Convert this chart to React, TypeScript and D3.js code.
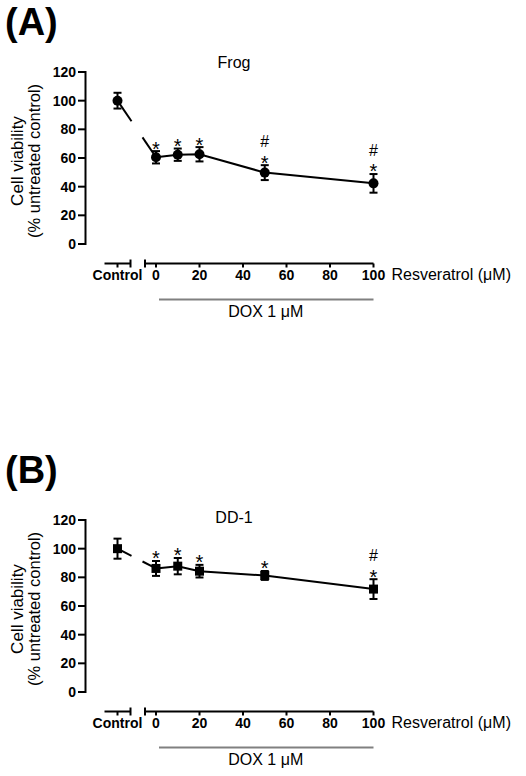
import React from "react";
import * as d3 from "d3";

const doses = [0, 10, 20, 50, 100];
const xTicks = [0, 20, 40, 60, 80, 100];
const yTicks = [0, 20, 40, 60, 80, 100, 120];

const frogControl = 100;
const frogControlErr = 5.5;
const frogMean = [60.5, 62.3, 62.6, 49.8, 42.3];
const frogErr = [4.3, 4.3, 5, 5.2, 6.5];
const frogSig = ["*", "*", "*", "#*", "#*"];

const dd1Control = 100;
const dd1ControlErr = 7;
const dd1Mean = [86.2, 87.8, 84.3, 81.3, 71.8];
const dd1Err = [5.2, 5.7, 4.4, 3.1, 6.9];
const dd1Sig = ["*", "*", "*", "*", "#*"];

const FONT = "Liberation Sans, Arial, sans-serif";

type PanelProps = {
  dy: number;
  letter: string;
  title: string;
  titleY: number;
  control: number;
  controlErr: number;
  mean: number[];
  err: number[];
  sig: string[];
  marker: "circle" | "square";
};

function Panel(p: PanelProps) {
  const y = d3.scaleLinear().domain([0, 120]).range([244, 72]);
  const x = d3.scaleLinear().domain([0, 100]).range([156, 373.5]);
  const xc = d3.scalePoint<string>().domain(["Control"]).range([104.5, 130.5]).padding(0.5);
  const axisY = 263.5;
  const yAxisX = 85.5;
  const ctrlX = xc("Control") as number;
  const cy = y(p.control);
  const x0 = x(doses[0]);
  const y0 = y(p.mean[0]);
  const interp = (xx: number) => cy + ((xx - ctrlX) / (x0 - ctrlX)) * (y0 - cy);
  const breakA = 131.5;
  const breakB = 142.5;
  const line = d3.line<number>().x((_, i) => x(doses[i])).y((v) => y(v));
  const capW = 4;

  const errBar = (cx: number, v: number, e: number, key: string) => (
    <g key={key} stroke="#000" strokeWidth={2}>
      <line x1={cx} x2={cx} y1={y(v - e)} y2={y(v + e)} />
      <line x1={cx - capW} x2={cx + capW} y1={y(v - e)} y2={y(v - e)} />
      <line x1={cx - capW} x2={cx + capW} y1={y(v + e)} y2={y(v + e)} />
    </g>
  );
  const mark = (cx: number, v: number, key: string) =>
    p.marker === "circle" ? (
      <circle key={key} cx={cx} cy={y(v)} r={5} fill="#000" />
    ) : (
      <rect key={key} x={cx - 4.5} y={y(v) - 4.5} width={9} height={9} fill="#000" />
    );

  return (
    <g transform={`translate(0,${p.dy})`} fontFamily={FONT}>
      <text x={5} y={35} fontSize={38} fontWeight="bold">{p.letter}</text>
      <text x={234} y={p.titleY} fontSize={16} textAnchor="middle">{p.title}</text>

      {/* y axis label */}
      <g transform="translate(23,161) rotate(-90)">
        <text x={0} y={0} fontSize={17} textAnchor="middle">Cell viability</text>
        <text x={0} y={17} fontSize={16.5} textAnchor="middle">(% untreated control)</text>
      </g>

      {/* y axis */}
      <line x1={yAxisX} x2={yAxisX} y1={y(0) + 1} y2={y(120) - 1} stroke="#000" strokeWidth={2} />
      {yTicks.map((t) => (
        <g key={t}>
          <line x1={78} x2={yAxisX} y1={y(t)} y2={y(t)} stroke="#000" strokeWidth={2} />
          <text x={76} y={y(t) + 5} fontSize={14} fontWeight="bold" textAnchor="end">{t}</text>
        </g>
      ))}

      {/* control x axis */}
      <line x1={104.5} x2={130.5} y1={axisY} y2={axisY} stroke="#000" strokeWidth={2} />
      <line x1={ctrlX} x2={ctrlX} y1={axisY} y2={axisY + 4} stroke="#000" strokeWidth={2} />
      <line x1={130.5} x2={130.5} y1={axisY - 4} y2={axisY + 4} stroke="#000" strokeWidth={2} />
      <text x={ctrlX} y={axisY + 16.5} fontSize={14} fontWeight="bold" textAnchor="middle">Control</text>

      {/* dose x axis */}
      <line x1={145} x2={x(100)} y1={axisY} y2={axisY} stroke="#000" strokeWidth={2} />
      <line x1={145} x2={145} y1={axisY - 4} y2={axisY + 4} stroke="#000" strokeWidth={2} />
      {xTicks.map((t) => (
        <g key={t}>
          <line x1={x(t)} x2={x(t)} y1={axisY} y2={axisY + 4} stroke="#000" strokeWidth={2} />
          <text x={x(t)} y={axisY + 16.5} fontSize={14} fontWeight="bold" textAnchor="middle">{t}</text>
        </g>
      ))}
      <text x={x(100) + 18} y={axisY + 16.5} fontSize={16}>Resveratrol (μM)</text>
      <line x1={x(0) + 3} x2={x(100)} y1={299.5} y2={299.5} stroke="#808080" strokeWidth={2} />
      <text x={x(50) + 1} y={316.5} fontSize={16} textAnchor="middle">DOX 1 μM</text>

      {/* broken connector */}
      <line x1={ctrlX} y1={cy} x2={breakA} y2={interp(breakA)} stroke="#000" strokeWidth={2} />
      <line x1={breakB} y1={interp(breakB)} x2={x0} y2={y0} stroke="#000" strokeWidth={2} />
      <path d={line(p.mean) || ""} fill="none" stroke="#000" strokeWidth={2} />

      {errBar(ctrlX, p.control, p.controlErr, "ce")}
      {mark(ctrlX, p.control, "cm")}
      {doses.map((d, i) => errBar(x(d), p.mean[i], p.err[i], "e" + i))}
      {doses.map((d, i) => mark(x(d), p.mean[i], "m" + i))}

      {doses.map((d, i) => {
        const top = y(p.mean[i] + p.err[i]);
        const starBottom = top - 4;
        const starBase = starBottom + 0.42 * 20;
        const s = p.sig[i];
        return (
          <g key={"s" + i}>
            <text x={x(d)} y={starBase} fontSize={20} textAnchor="middle">*</text>
            {s.includes("#") && (
              <text x={x(d)} y={starBottom - 13.8} fontSize={16} textAnchor="middle">#</text>
            )}
          </g>
        );
      })}
    </g>
  );
}

export default function App() {
  return (
    <svg
      width={526}
      height={776}
      style={{ position: "absolute", left: 0, top: 0, background: "#fff" }}
    >
      <rect width={526} height={776} fill="#fff" />
      <Panel
        dy={0}
        letter="(A)"
        title="Frog"
        titleY={67.5}
        control={frogControl}
        controlErr={frogControlErr}
        mean={frogMean}
        err={frogErr}
        sig={frogSig}
        marker="circle"
      />
      <Panel
        dy={448}
        letter="(B)"
        title="DD-1"
        titleY={74.5}
        control={dd1Control}
        controlErr={dd1ControlErr}
        mean={dd1Mean}
        err={dd1Err}
        sig={dd1Sig}
        marker="square"
      />
    </svg>
  );
}
